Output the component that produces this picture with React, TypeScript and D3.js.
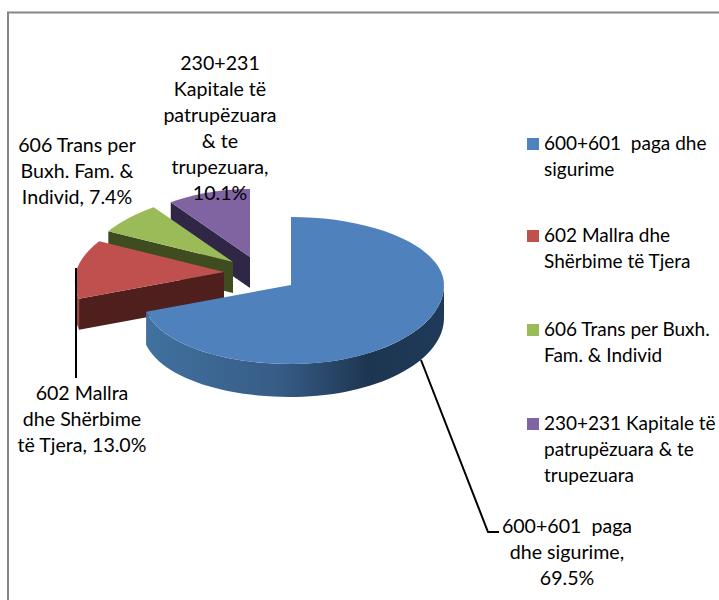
import * as d3 from 'd3';

const categories = ['600+601  paga dhe sigurime', '602 Mallra dhe Shërbime të Tjera', '606 Trans per Buxh. Fam. & Individ', '230+231 Kapitale të patrupëzuara & te trupezuara'];
const shares = [69.5, 13.0, 7.4, 10.1];
const colors = ['#4f81bd', '#c0504d', '#9bbb59', '#8064a2'];
const wallColors = ['#1f3a5a', '#4f1f1d', '#3f4c20', '#2f2745'];
const rimColors = ['url(#blueRim)', '#a8443f', '#3f4c20', '#2f2745'];

const legendLines = [
  ['600+601  paga dhe', 'sigurime'],
  ['602 Mallra dhe', 'Shërbime të Tjera'],
  ['606 Trans per Buxh.', 'Fam. & Individ'],
  ['230+231 Kapitale të', 'patrupëzuara & te', 'trupezuara'],
];
const labelLines = [
  ['600+601  paga', 'dhe sigurime,', '69.5%'],
  ['602 Mallra', 'dhe Shërbime', 'të Tjera, 13.0%'],
  ['606 Trans per', 'Buxh. Fam. &', 'Individ, 7.4%'],
  ['230+231', 'Kapitale të', 'patrupëzuara', '& te', 'trupezuara,', '10.1%'],
];

const width = 719;
const height = 600;
const fontFamily = 'Lato, "Open Sans", sans-serif';
const fontSize = 19.6;
const legendFontSize = 19;
const lineGap = 26;

// apex of each slice once it is pulled out of the pie
const apexes = [[291, 285], [224, 272], [233, 262], [250, 257]];
const depth = [33, 31, 31, 31];
const labelPos = [[567, 533], [82, 400], [77, 152], [220, 70]];
const legendY = [150, 242, 336, 430];

// tilted disc: flatter and narrower towards the back
const project = (a: number, apex: number[]) => {
  const s = Math.sin(a);
  const c = Math.cos(a);
  const rx = s > 0 ? 153 : 148 * (1 - 0.12 * c);
  const ry = c > 0 ? 68 : 79;
  return [apex[0] + s * rx, apex[1] - c * ry];
};

const line = d3.line();
const arcPoints = (from: number, to: number, apex: number[]) =>
  d3.range(0, 61).map((i) => project(from + ((to - from) * i) / 60, apex) as [number, number]);

export default function App() {
  const arcs = d3.pie<number>().sort(null)(shares);

  return (
    <svg width={width} height={height} style={{ position: 'absolute', left: 0, top: 0, background: '#fff' }}>
      <defs>
        <linearGradient id="blueRim" gradientUnits="userSpaceOnUse" x1="147" y1="0" x2="444" y2="0">
          <stop offset="0" stopColor="#41719f" />
          <stop offset="0.45" stopColor="#365c86" />
          <stop offset="0.75" stopColor="#1d3550" />
          <stop offset="1" stopColor="#1f3a5a" />
        </linearGradient>
      </defs>
      <path d="M719,12.5H8V600" fill="none" stroke="#868686" strokeWidth={2} />

      {/* back slices first, the big blue one goes on top */}
      {[3, 2, 1, 0].map((i) => {
        const d = arcs[i];
        const apex = apexes[i];
        const h = depth[i];
        const top = arcPoints(d.startAngle, d.endAngle, apex);
        const rimFrom = Math.max(d.startAngle, Math.PI / 2);
        const rimTo = Math.min(d.endAngle, (Math.PI * 3) / 2);
        const rim = rimTo > rimFrom ? arcPoints(rimFrom, rimTo, apex) : [];
        const rimPath = [...rim, ...rim.map(([x, y]) => [x, y + h] as [number, number]).reverse()];
        const edge = project(d.startAngle, apex);
        const cut = [apex, edge, [edge[0], edge[1] + h], [apex[0], apex[1] + h]] as [number, number][];
        return (
          <g key={categories[i]}>
            {rim.length > 0 && <path d={line(rimPath) + 'Z'} fill={rimColors[i]} />}
            {i !== 0 && <path d={line(cut) + 'Z'} fill={wallColors[i]} />}
            <path d={line([apex as [number, number], ...top]) + 'Z'} fill={colors[i]} />
          </g>
        );
      })}

      {/* leader lines */}
      <path d="M421,360L488,532H499" fill="none" stroke="#000" strokeWidth={2} />
      <path d="M76,268V378" fill="none" stroke="#000" strokeWidth={2} />

      <g fontFamily={fontFamily} fontSize={fontSize} fill="#000">
        {labelLines.map((lines, i) => (
          <text key={i} textAnchor="middle" xmlSpace="preserve">
            {lines.map((t, j) => (
              <tspan key={j} x={labelPos[i][0]} y={labelPos[i][1] + j * lineGap}>{t}</tspan>
            ))}
          </text>
        ))}
        {legendLines.map((lines, i) => (
          <g key={i}>
            <rect x={527} y={legendY[i] - 12} width={12} height={12} fill={colors[i]} />
            <text xmlSpace="preserve" fontSize={legendFontSize}>
              {lines.map((t, j) => (
                <tspan key={j} x={544} y={legendY[i] + j * lineGap}>{t}</tspan>
              ))}
            </text>
          </g>
        ))}
      </g>
    </svg>
  );
}
